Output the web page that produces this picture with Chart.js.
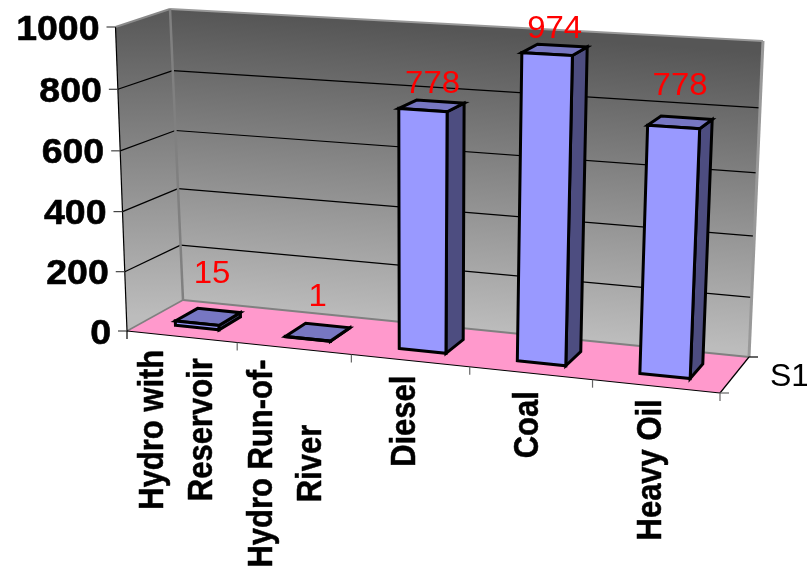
<!DOCTYPE html>
<html>
<head>
<meta charset="utf-8">
<style>
  html, body { margin: 0; padding: 0; background: #fff; overflow: hidden; }
  canvas { display: block; }
</style>
<script src="https://cdn.jsdelivr.net/npm/chart.js@4"></script>
</head>
<body>
<canvas id="chart" width="807" height="569"></canvas>
<script>
const categories = [['Hydro with', 'Reservoir'], ['Hydro Run-of-', 'River'], 'Diesel', 'Coal', 'Heavy Oil'];
const seriesName = 'S1';
const values = [15, 1, 778, 974, 778];
const yTicks = [0, 200, 400, 600, 800, 1000];

// corners of the 3D box on screen, everything else is projected from these
const box = {
    frontBL: [127, 331], frontBR: [720, 393], frontTL: [115.5, 27], frontTR: [734, 63],
    backBL: [183, 300], backBR: [749, 357], backTL: [170, 9], backTR: [763, 41]
};
const perspective = 0.913;
const frontRise = 0.97;
const backRise = 0.93;
const barDepth = [0.29, 0.7];

// hand tweaks, Excel did not place these by any simple rule
const valueLift = [45, 37, 24, 23, 38];
const valueShift = [4, 0, 1, 0, 0];
const labelDrop = [13, 11, 15, 18, 13];
const labelShift = [-6, -9, -7, -4.5, -6.5];

const mix = (a, b, t) => [a[0] + (b[0] - a[0]) * t, a[1] + (b[1] - a[1]) * t];
const warp = (t, w) => w * t / (w * t + 1 - t);

function project(chart, xPx, yPx, depth) {
    const area = chart.chartArea;
    const u = warp((xPx - area.left) / (area.right - area.left), perspective);
    const h = (area.bottom - yPx) / (area.bottom - area.top);
    const front = mix(mix(box.frontBL, box.frontBR, u), mix(box.frontTL, box.frontTR, u), warp(h, frontRise));
    const back = mix(mix(box.backBL, box.backBR, u), mix(box.backTL, box.backTR, u), warp(h, backRise));
    return mix(front, back, depth);
}

function poly(ctx, pts, fill, stroke, width) {
    ctx.beginPath();
    pts.forEach((p, i) => i ? ctx.lineTo(p[0], p[1]) : ctx.moveTo(p[0], p[1]));
    ctx.closePath();
    if (fill) {
        ctx.fillStyle = fill;
        ctx.fill();
    }
    if (stroke) {
        ctx.strokeStyle = stroke;
        ctx.lineWidth = width;
        ctx.lineJoin = 'miter';
        ctx.stroke();
    }
}

function line(ctx, a, b, color, width) {
    ctx.beginPath();
    ctx.moveTo(a[0], a[1]);
    ctx.lineTo(b[0], b[1]);
    ctx.strokeStyle = color;
    ctx.lineWidth = width;
    ctx.stroke();
}

function stretchedText(ctx, text, x, y, font, color, stretch, align, heavy) {
    ctx.save();
    ctx.translate(x, y);
    ctx.scale(stretch, 1);
    ctx.font = font;
    ctx.fillStyle = color;
    ctx.textAlign = align;
    ctx.textBaseline = 'alphabetic';
    ctx.fillText(text, 0, 0);
    if (heavy) {
        ctx.strokeStyle = color;
        ctx.lineWidth = heavy;
        ctx.lineJoin = 'round';
        ctx.strokeText(text, 0, 0);
    }
    ctx.restore();
}

function drawBox(chart, ctx) {
    const { left, right } = chart.chartArea;
    const yScale = chart.scales.y;

    const sideFill = ctx.createLinearGradient(0, 18, 0, 316);
    sideFill.addColorStop(0, '#5a5a5a');
    sideFill.addColorStop(1, '#bcbcbc');
    poly(ctx, [box.frontBL, box.backBL, box.backTL, box.frontTL], sideFill);

    const backFill = ctx.createLinearGradient(170, 9, 148, 305);
    backFill.addColorStop(0, '#565656');
    backFill.addColorStop(1, '#bcbcbc');
    poly(ctx, [box.backBL, box.backBR, box.backTR, box.backTL], backFill);

    poly(ctx, [box.frontBL, box.frontBR, box.backBR, box.backBL], '#ff99cc');

    // gridlines run along the side wall and then the back wall
    yTicks.slice(1, -1).forEach(v => {
        const py = yScale.getPixelForValue(v);
        const a = project(chart, left, py, 0);
        const b = project(chart, left, py, 1);
        const c = project(chart, right, py, 1);
        line(ctx, a, b, '#000', 1.2);
        line(ctx, b, c, '#000', 1.2);
    });

    // wall edges
    line(ctx, box.frontTL, box.backTL, '#8a8a8a', 2);
    line(ctx, box.backTL, box.backTR, '#999', 2);
    line(ctx, box.backTL, box.backBL, '#808080', 2.5);
    line(ctx, box.backTR, box.backBR, '#999', 3);
    line(ctx, box.backBL, box.backBR, '#808080', 2);
    line(ctx, box.frontBL, box.backBL, '#808080', 1.5);

    // axis lines
    line(ctx, box.frontTL, box.frontBL, '#000', 1.2);
    line(ctx, box.frontBL, box.frontBR, '#000', 1.2);
    line(ctx, box.frontBR, box.backBR, '#000', 1.2);
}

function drawBars(chart, ctx) {
    const meta = chart.getDatasetMeta(0);
    const base = chart.scales.y.getPixelForValue(0);
    meta.data.forEach(bar => {
        const l = bar.x - bar.width / 2;
        const r = bar.x + bar.width / 2;
        const p = (x, y, d) => project(chart, x, y, d);
        const [d0, d1] = barDepth;
        poly(ctx, [p(r, base, d0), p(r, base, d1), p(r, bar.y, d1), p(r, bar.y, d0)], '#4d4d80', '#000', 3);
        poly(ctx, [p(l, bar.y, d0), p(r, bar.y, d0), p(r, bar.y, d1), p(l, bar.y, d1)], '#7777c2', '#000', 3);
        poly(ctx, [p(l, base, d0), p(r, base, d0), p(r, bar.y, d0), p(l, bar.y, d0)], '#9999ff', '#000', 3);
    });
}

function drawAxes(chart, ctx) {
    const { left, right, bottom } = chart.chartArea;
    const xScale = chart.scales.x;
    const yScale = chart.scales.y;
    const step = (right - left) / categories.length;
    const boldFont = 'bold 35px "Liberation Sans"';

    // y ticks and labels lean with the front left axis
    yTicks.forEach(v => {
        const p = project(chart, left, yScale.getPixelForValue(v), 0);
        line(ctx, [p[0] - 9, p[1]], p, '#444', 1.2);
        stretchedText(ctx, String(v), p[0] - 16, p[1] + 12.5, boldFont, '#000', 1.07, 'right', 0.6);
    });

    // x ticks at the category borders
    for (let i = 0; i <= categories.length; i++) {
        const p = project(chart, left + step * i, bottom, 0);
        line(ctx, p, [p[0], p[1] + 8], i === 0 ? '#000' : '#666', 1.2);
    }
    line(ctx, box.frontBR, [box.frontBR[0] + 9, box.frontBR[1]], '#666', 1.2);
    line(ctx, box.backBR, [box.backBR[0] + 9, box.backBR[1]], '#000', 1.2);

    // rotated category labels
    categories.forEach((cat, i) => {
        const lines = Array.isArray(cat) ? cat : [cat];
        const p = project(chart, xScale.getPixelForValue(i), bottom, 0);
        ctx.font = boldFont;
        const longest = Math.max(...lines.map(t => ctx.measureText(t).width)) * 0.885;
        const cy = p[1] + labelDrop[i] + longest / 2;
        lines.forEach((t, j) => {
            ctx.save();
            ctx.translate(p[0] + labelShift[i] + (j - (lines.length - 1) / 2) * 49 + 12, cy);
            ctx.rotate(-Math.PI / 2);
            stretchedText(ctx, t, 0, 0, boldFont, '#000', 0.885, 'center', 0.5);
            ctx.restore();
        });
    });

    stretchedText(ctx, seriesName, 770, 385.5, '32px "Liberation Sans"', '#000', 1, 'left');
}

function drawValues(chart, ctx) {
    const meta = chart.getDatasetMeta(0);
    meta.data.forEach((bar, i) => {
        const p = project(chart, bar.x, bar.y, (barDepth[0] + barDepth[1]) / 2);
        stretchedText(ctx, String(values[i]), p[0] + valueShift[i], p[1] - valueLift[i] + 11, '32px "Liberation Sans"', '#ff0000', 1.03, 'center');
    });
}

const excel3d = {
    id: 'excel3d',
    beforeDatasetsDraw(chart) {
        const ctx = chart.ctx;
        ctx.save();
        drawBox(chart, ctx);
        drawBars(chart, ctx);
        ctx.restore();
        return false; // the flat bars are replaced by the projected ones
    },
    afterDraw(chart) {
        const ctx = chart.ctx;
        ctx.save();
        drawAxes(chart, ctx);
        drawValues(chart, ctx);
        ctx.restore();
    }
};

new Chart(document.getElementById('chart'), {
    type: 'bar',
    data: {
        labels: categories,
        datasets: [{ label: seriesName, data: values, backgroundColor: '#9999ff', barPercentage: 0.4, categoryPercentage: 1 }]
    },
    options: {
        responsive: false,
        animation: false,
        layout: { padding: { left: 127, right: 87, top: 27, bottom: 238 } },
        scales: {
            x: { display: false },
            y: { display: false, min: 0, max: 1000, ticks: { stepSize: 200 } }
        },
        plugins: { legend: { display: false }, tooltip: { enabled: false } }
    },
    plugins: [excel3d]
});
</script>
</body>
</html>
